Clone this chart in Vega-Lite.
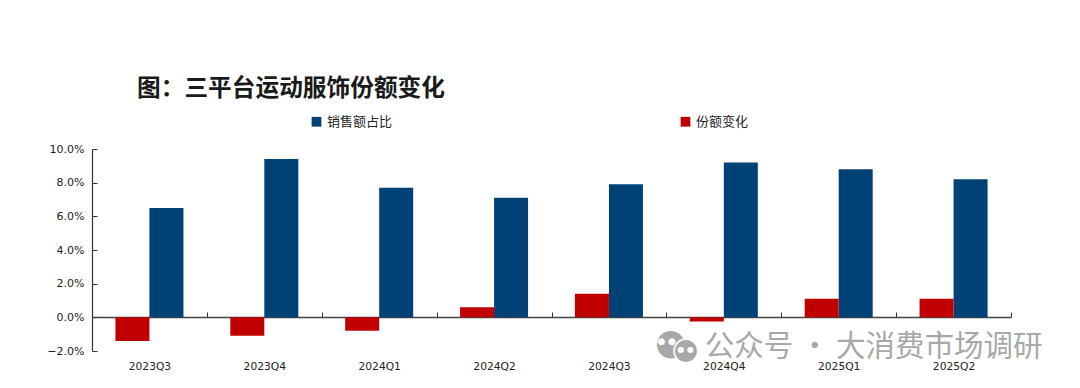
{"$schema":"https://vega.github.io/schema/vega-lite/v6.json","autosize":{"type":"none"},"width":919,"height":202,"padding":{"left":92,"top":149,"right":69,"bottom":37},"background":"white",
"title":{"text":"图：三平台运动服饰份额变化","anchor":"start","frame":"group","dx":45,"offset":14,"font":"Noto Sans CJK SC","fontSize":23.7,"fontWeight":"bold","color":"#1a1a1a"},
"config":{"view":{"stroke":null}},
"datasets":{"bars":[
{"q":"2023Q3","s":"销售额占比","v":0.065},{"q":"2023Q3","s":"份额变化","v":-0.014},
{"q":"2023Q4","s":"销售额占比","v":0.094},{"q":"2023Q4","s":"份额变化","v":-0.011},
{"q":"2024Q1","s":"销售额占比","v":0.077},{"q":"2024Q1","s":"份额变化","v":-0.008},
{"q":"2024Q2","s":"销售额占比","v":0.071},{"q":"2024Q2","s":"份额变化","v":0.006},
{"q":"2024Q3","s":"销售额占比","v":0.079},{"q":"2024Q3","s":"份额变化","v":0.014},
{"q":"2024Q4","s":"销售额占比","v":0.092},{"q":"2024Q4","s":"份额变化","v":-0.0025},
{"q":"2025Q1","s":"销售额占比","v":0.088},{"q":"2025Q1","s":"份额变化","v":0.011},
{"q":"2025Q2","s":"销售额占比","v":0.082},{"q":"2025Q2","s":"份额变化","v":0.011}],
"wm":[{"q":"2025Q1","y":-0.0175,"t":"公众号 · 大消费市场调研"}]},
"layer":[
{"data":{"name":"bars"},"mark":{"type":"bar","clip":false},
"encoding":{
"x":{"field":"q","type":"nominal","sort":null,"title":null,"scale":{"paddingInner":0,"paddingOuter":0},
"axis":{"labelAngle":0,"offset":-34,"orient":"bottom","tickBand":"extent","tickExtra":true,"tickSize":-5,"tickColor":"#333","tickWidth":1,"domainColor":"#444","domainWidth":1.5,"labelPadding":49,"labelFont":"DejaVu Sans","labelFontSize":10.7,"labelColor":"#222","labelOverlap":false}},
"xOffset":{"field":"s","type":"nominal","sort":["份额变化","销售额占比"],"scale":{"domain":["份额变化","销售额占比"],"paddingInner":0,"paddingOuter":0.689}},
"y":{"field":"v","type":"quantitative","title":null,"scale":{"domain":[-0.02,0.1],"nice":false,"zero":false},
"axis":{"values":[-0.02,0,0.02,0.04,0.06,0.08,0.1],"tickCount":7,"format":".1%","grid":false,"tickSize":-5,"tickColor":"#333","domainColor":"#333","domainWidth":1.2,"labelPadding":13,"labelFont":"DejaVu Sans","labelFontSize":11,"labelColor":"#222","labelOverlap":false,"labelFlush":false}},
"color":{"field":"s","type":"nominal","scale":{"domain":["销售额占比","份额变化"],"range":["#004276","#c00000"]},
"legend":{"title":null,"orient":"none","legendX":218,"legendY":-34,"columns":2,"columnPadding":286,"symbolType":"square","symbolSize":95,"symbolStrokeWidth":0,"labelFont":"Noto Sans CJK SC","labelFontSize":13,"labelColor":"#222","labelLimit":200}}}},
{"data":{"name":"wm"},"mark":{"type":"text","font":"Noto Sans CJK SC","fontSize":29.5,"color":"#a8a8a8","align":"center","baseline":"middle","dx":35,"dy":0},
"encoding":{"x":{"field":"q","type":"nominal"},"y":{"field":"y","type":"quantitative"},"text":{"field":"t"}}},
{"data":{"name":"wm"},"mark":{"type":"text","font":"DejaVu Sans","fontSize":36,"color":"#a8a8a8","align":"center","baseline":"middle","dx":-168,"dy":-4},
"encoding":{"x":{"field":"q","type":"nominal"},"y":{"field":"y","type":"quantitative"},"text":{"value":"●"}}},
{"data":{"name":"wm"},"mark":{"type":"text","font":"DejaVu Sans","fontSize":31,"color":"#a8a8a8","stroke":"white","strokeWidth":1.5,"align":"center","baseline":"middle","dx":-153,"dy":3},
"encoding":{"x":{"field":"q","type":"nominal"},"y":{"field":"y","type":"quantitative"},"text":{"value":"●"}}},
{"data":{"name":"wm"},"mark":{"type":"text","font":"DejaVu Sans","fontSize":9,"color":"white","align":"center","baseline":"middle","dx":-172,"dy":-6},
"encoding":{"x":{"field":"q","type":"nominal"},"y":{"field":"y","type":"quantitative"},"text":{"value":"● ●"}}},
{"data":{"name":"wm"},"mark":{"type":"text","font":"DejaVu Sans","fontSize":8,"color":"white","align":"center","baseline":"middle","dx":-153,"dy":3},
"encoding":{"x":{"field":"q","type":"nominal"},"y":{"field":"y","type":"quantitative"},"text":{"value":"● ●"}}}
]}
